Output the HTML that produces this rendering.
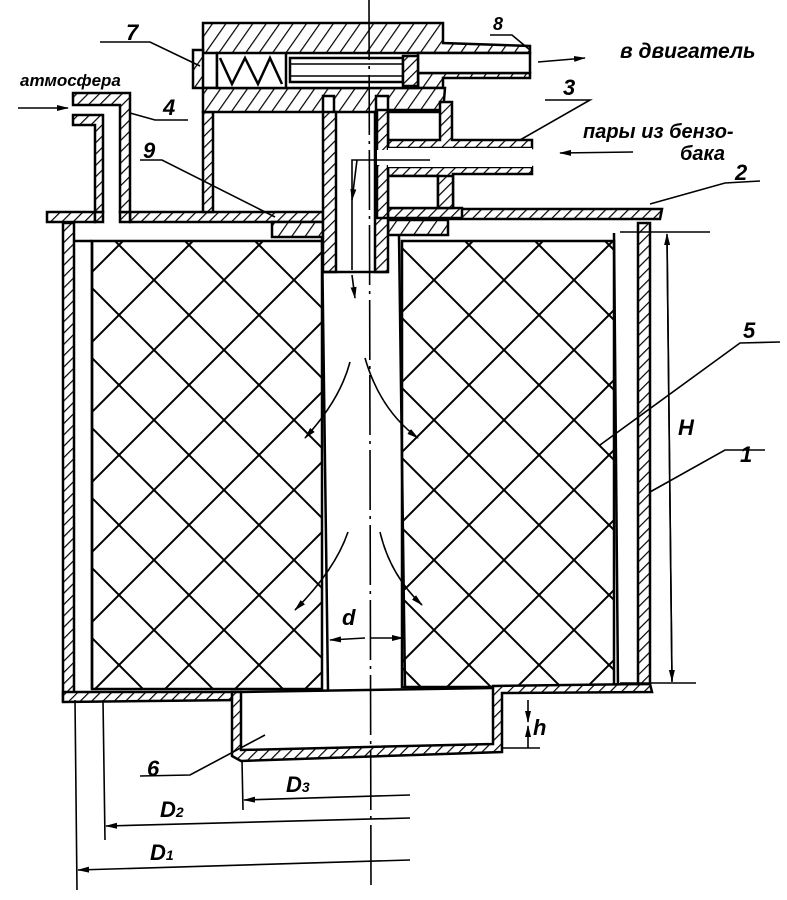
<!DOCTYPE html>
<html><head><meta charset="utf-8"><style>
html,body{margin:0;padding:0;background:#fff;}
svg{display:block}
text{font-family:"Liberation Sans",sans-serif;font-style:italic;font-weight:bold;fill:#000}
</style></head><body>
<svg width="787" height="900" viewBox="0 0 787 900" xmlns="http://www.w3.org/2000/svg">
<defs>
<pattern id="h" patternUnits="userSpaceOnUse" width="8" height="8" patternTransform="rotate(45)">
<rect width="8" height="8" fill="#fff"/><line x1="0" y1="0" x2="0" y2="8" stroke="#000" stroke-width="2.4"/></pattern>
<pattern id="hb" patternUnits="userSpaceOnUse" width="11" height="11" patternTransform="rotate(35)">
<rect width="11" height="11" fill="#fff"/><line x1="0" y1="0" x2="0" y2="11" stroke="#000" stroke-width="2.4"/></pattern>
<pattern id="x" patternUnits="userSpaceOnUse" width="70" height="70" x="14" y="0">
<rect width="70" height="70" fill="#fff"/>
<line x1="0" y1="0" x2="70" y2="70" stroke="#000" stroke-width="2"/>
<line x1="70" y1="0" x2="0" y2="70" stroke="#000" stroke-width="2"/></pattern>
<marker id="a" markerWidth="12" markerHeight="8" refX="11" refY="4" orient="auto" markerUnits="userSpaceOnUse">
<path d="M0,1 L12,4 L0,7 Z" fill="#000"/></marker>
</defs>
<g stroke="#000" stroke-width="2.5">
<rect x="92" y="241" width="230" height="448" fill="url(#x)"/>
<rect x="402" y="241" width="212" height="446" fill="url(#x)"/>
<rect x="63" y="223" width="11" height="478" fill="url(#h)"/>
<rect x="638" y="223" width="12" height="462" fill="url(#h)"/>
<line x1="74" y1="241" x2="92" y2="241"/>
<line x1="92" y1="241" x2="92" y2="689"/>
<line x1="614" y1="233" x2="618" y2="688"/>
<path d="M63,692 L240,692 L240,700 L63,702 Z" fill="url(#h)"/>
<path d="M232,692 L241,692 L241,750 L493,744 L493,686 L650,684 L652,692 L502,693 L502,752 L241,761 L232,756 Z" fill="url(#h)"/>
<line x1="241" y1="692" x2="493" y2="688"/>
<line x1="322" y1="236" x2="328" y2="690"/>
<line x1="399" y1="236" x2="405" y2="688"/>
<path d="M47,212 L95,212 L95,222 L47,222 Z" fill="url(#h)"/>
<path d="M130,212 L323,212 L323,222 L130,222 Z" fill="url(#h)"/>
<path d="M95,212 L103,212 L103,222 L95,222Z M120,212 L130,212 L130,222 L120,222Z" fill="url(#h)"/>
<path d="M388,209 L662,209 L660,219 L388,219 Z" fill="url(#h)"/>
<rect x="272" y="222" width="51" height="15" fill="url(#hb)"/>
<rect x="388" y="220" width="60" height="15" fill="url(#hb)"/>
<path d="M73,93 L130,93 L130,212 L120,212 L120,105 L73,105 Z" fill="url(#h)"/>
<path d="M73,115 L103,115 L103,212 L95,212 L95,125 L73,125 Z" fill="url(#h)"/>
<rect x="203" y="112" width="10" height="100" fill="url(#h)"/>
<path d="M203,23 L443,23 L443,43 L530,46 L530,53 L418,53 L418,88 L217,88 L217,53 L203,53 Z" fill="url(#hb)"/>
<path d="M203,88 L443,88 L443,78 L530,78 L530,73 L418,73 L418,88 L217,88 Z" fill="url(#hb)"/>
<path d="M203,88 L418,88 L445,88 L443,112 L388,112 L388,96 L376,96 L376,112 L334,112 L334,96 L323,96 L323,112 L203,112 Z" fill="url(#hb)"/>
<path d="M418,53 L530,53 L530,73 L418,73" fill="#fff"/>
<rect x="193" y="50" width="10" height="38" fill="url(#hb)"/>
<rect x="217" y="53" width="201" height="35" fill="#fff"/>
<rect x="290" y="58" width="113" height="24" fill="#fff"/>
<line x1="290" y1="64" x2="403" y2="64" stroke-width="1.5"/><line x1="290" y1="76" x2="403" y2="76" stroke-width="1.5"/>
<rect x="403" y="56" width="15" height="30" fill="url(#h)"/>
<polyline points="220,58 232,84 245,58 258,84 270,58 282,84" fill="none"/>
<line x1="286" y1="54" x2="286" y2="88"/>
<path d="M323,112 L336,112 L336,272 L323,272 Z" fill="url(#h)"/>
<path d="M375,112 L388,112 L388,272 L375,272 Z" fill="url(#h)"/>
<line x1="323" y1="272" x2="388" y2="272"/>
<path d="M388,110 L440,110 L440,102 L452,102 L452,140 L532,140 L532,148 L388,148 Z" fill="url(#h)"/>
<rect x="388" y="112" width="52" height="28" fill="#fff"/>
<path d="M388,167 L532,167 L532,174 L453,174 L453,208 L388,208 L388,218 L462,218 L462,208 L438,208 L438,176 L388,176 Z" fill="url(#h)"/>
<rect x="388" y="176" width="50" height="32" fill="#fff"/>
<rect x="438" y="176" width="15" height="32" fill="url(#h)"/>
<rect x="377" y="110" width="11" height="108" fill="url(#h)"/>
<rect x="388" y="148" width="144" height="19" fill="#fff" stroke="none"/>
<rect x="377" y="150" width="12" height="15" fill="#fff" stroke="none"/>
</g>
<g stroke="#000" stroke-width="1.6" fill="none">
<line x1="369" y1="0" x2="371" y2="890" stroke-dasharray="60,6,3,6"/>
<line x1="357" y1="160" x2="352" y2="200" marker-end="url(#a)"/>
<polyline points="430,160 352,160 352,270"/>
<line x1="352" y1="275" x2="355" y2="298" marker-end="url(#a)"/>
<path d="M350,362 Q340,400 305,438" marker-end="url(#a)"/>
<path d="M365,358 Q380,410 418,438" marker-end="url(#a)"/>
<path d="M348,532 Q335,570 295,610" marker-end="url(#a)"/>
<path d="M380,532 Q390,575 422,605" marker-end="url(#a)"/>
<line x1="538" y1="62" x2="585" y2="58" marker-end="url(#a)"/>
<line x1="633" y1="152" x2="560" y2="153" marker-end="url(#a)"/>
<line x1="18" y1="108" x2="68" y2="108" marker-end="url(#a)"/>
<polyline points="100,42 150,42 200,66"/>
<polyline points="490,35 512,35 530,50"/>
<polyline points="545,100 590,100 520,140"/>
<polyline points="130,113 155,120 188,120"/>
<polyline points="140,160 162,160 275,217"/>
<polyline points="760,181 725,183 650,204"/>
<polyline points="780,342 740,343 600,445"/>
<polyline points="765,450 725,450 650,492"/>
<polyline points="140,776 190,775 265,735"/>
<line x1="620" y1="232" x2="710" y2="232"/>
<line x1="620" y1="683" x2="696" y2="683"/>
<line x1="672" y1="682" x2="667" y2="234" marker-end="url(#a)"/>
<line x1="667" y1="240" x2="672" y2="681" marker-end="url(#a)"/>
<line x1="528" y1="700" x2="528" y2="722" marker-end="url(#a)"/>
<line x1="528" y1="748" x2="528" y2="726" marker-end="url(#a)"/>
<line x1="502" y1="748" x2="540" y2="748"/>
<line x1="365" y1="638" x2="330" y2="640" marker-end="url(#a)"/>
<line x1="370" y1="638" x2="403" y2="638" marker-end="url(#a)"/>
<line x1="75" y1="700" x2="77" y2="890"/>
<line x1="103" y1="700" x2="105" y2="840"/>
<line x1="242" y1="760" x2="243" y2="810"/>
<line x1="410" y1="795" x2="244" y2="800" marker-end="url(#a)"/>
<line x1="410" y1="818" x2="106" y2="826" marker-end="url(#a)"/>
<line x1="410" y1="860" x2="78" y2="870" marker-end="url(#a)"/>
</g>
<g font-size="22">
<text x="126" y="40">7</text>
<text x="493" y="30" font-size="18">8</text>
<text x="563" y="95">3</text>
<text x="163" y="115">4</text>
<text x="143" y="158">9</text>
<text x="735" y="180">2</text>
<text x="743" y="338">5</text>
<text x="678" y="435">H</text>
<text x="740" y="462">1</text>
<text x="342" y="625">d</text>
<text x="533" y="735">h</text>
<text x="147" y="776">6</text>
<text x="286" y="792">D<tspan font-size="14">3</tspan></text>
<text x="160" y="817">D<tspan font-size="14">2</tspan></text>
<text x="150" y="860">D<tspan font-size="14">1</tspan></text>
<text x="20" y="86" font-size="17">атмосфера</text>
<text x="620" y="58" font-size="21">в двигатель</text>
<text x="583" y="138" font-size="20">пары из бензо-</text>
<text x="680" y="160" font-size="20">бака</text>
</g>
</svg>
</body></html>
